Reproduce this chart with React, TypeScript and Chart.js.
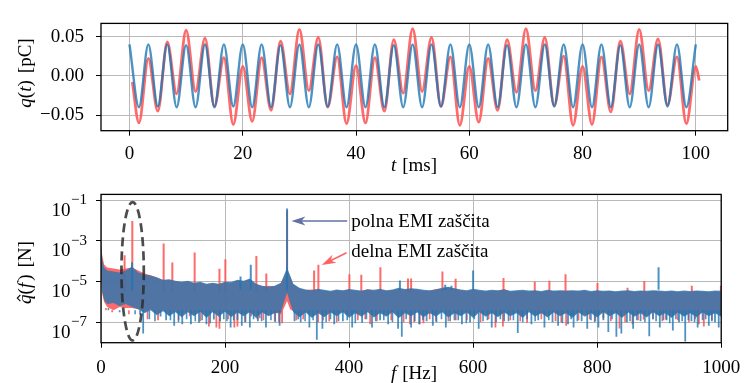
import React, { useEffect, useRef } from 'react';
import { Chart, registerables } from 'chart.js';

Chart.register(...registerables);

// ---------------- top panel: q(t) in pC, t in ms (extrema) ----------------
const BLUE_T = [0, 1.67, 3.33, 5, 6.67, 8.33, 10, 11.67, 13.33, 15, 16.67, 18.33, 20, 21.67, 23.33, 25, 26.67, 28.33, 30, 31.67, 33.33, 35, 36.67, 38.33, 40, 41.67, 43.33, 45, 46.67, 48.33, 50, 51.67, 53.33, 55, 56.67, 58.33, 60, 61.67, 63.33, 65, 66.67, 68.33, 70, 71.67, 73.33, 75, 76.67, 78.33, 80, 81.67, 83.33, 85, 86.67, 88.33, 90, 91.67, 93.33, 95, 96.67, 98.33, 100];
const BLUE_Q = [0.040, -0.040, 0.040, -0.039, 0.040, -0.040, 0.039, -0.040, 0.040, -0.040, 0.040, -0.039, 0.040, -0.040, 0.040, -0.040, 0.039, -0.040, 0.040, -0.040, 0.040, -0.039, 0.040, -0.040, 0.040, -0.040, 0.040, -0.040, 0.039, -0.040, 0.040, -0.040, 0.040, -0.039, 0.040, -0.040, 0.040, -0.040, 0.040, -0.040, 0.039, -0.040, 0.040, -0.040, 0.040, -0.039, 0.040, -0.040, 0.040, -0.040, 0.040, -0.040, 0.039, -0.040, 0.040, -0.040, 0.040, -0.039, 0.040, -0.040, 0.040];
const RED_T = [0.5, 1.67, 3.33, 5, 6.67, 8.33, 10, 11.67, 13.33, 15, 16.67, 18.33, 20, 21.67, 23.33, 25, 26.67, 28.33, 30, 31.67, 33.33, 35, 36.67, 38.33, 40, 41.67, 43.33, 45, 46.67, 48.33, 50, 51.67, 53.33, 55, 56.67, 58.33, 60, 61.67, 63.33, 65, 66.67, 68.33, 70, 71.67, 73.33, 75, 76.67, 78.33, 80, 81.67, 83.33, 85, 86.67, 88.33, 90, 91.67, 93.33, 95, 96.67, 98.33, 100, 100.6];
const RED_Q = [-0.008,
  -0.060, 0.022, -0.045, 0.043, -0.023, 0.058, -0.020, 0.048, -0.039, 0.023, -0.062, 0.012,
  -0.058, 0.023, -0.044, 0.044, -0.023, 0.059, -0.019, 0.049, -0.040, 0.024, -0.061, 0.013,
  -0.060, 0.023, -0.045, 0.046, -0.022, 0.060, -0.020, 0.049, -0.039, 0.024, -0.063, 0.012,
  -0.059, 0.022, -0.044, 0.046, -0.021, 0.060, -0.019, 0.049, -0.038, 0.025, -0.063, 0.012,
  -0.062, 0.024, -0.046, 0.044, -0.023, 0.059, -0.019, 0.047, -0.037, 0.024, -0.061, 0.012,
  -0.006];
const T_TICKS = [0, 20, 40, 60, 80, 100];
const Q_TICKS = [-0.05, 0, 0.05];

// ---------------- bottom panel: spectrum, values as log10 of amplitude ----------------
const FREQ = [0, 2, 5, 10, 20, 30, 40, 50, 60, 70,
  80, 90, 100, 110, 120, 130, 140, 150, 160, 170,
  180, 190, 200, 210, 220, 230, 240, 250, 260, 270,
  280, 290, 295, 300, 305, 310, 320, 330, 340, 350,
  360, 370, 380, 390, 400, 410, 420, 430, 440, 450,
  460, 470, 480, 490, 500, 510, 520, 530, 540, 550,
  560, 570, 580, 590, 600, 610, 620, 630, 640, 650,
  660, 670, 680, 690, 700, 710, 720, 730, 740, 750,
  760, 770, 780, 790, 800, 810, 820, 830, 840, 850,
  860, 870, 880, 890, 900, 910, 920, 930, 940, 950,
  960, 970, 980, 990, 1000];
// full EMI shielding (blue) noise band: upper / lower edge
const BLUE_UPPER = [-2.9, -3.9, -4.3, -4.45, -4.5, -4.55, -4.45, -4.25, -4.55, -4.65,
  -4.7, -4.8, -4.9, -4.88, -4.95, -5.0, -4.95, -5.05, -5.0, -5.1,
  -5.05, -5.1, -5.0, -5.02, -4.9, -4.95, -4.85, -5.1, -5.2, -5.25,
  -5.2, -5.05, -4.7, -4.3, -4.7, -5.1, -5.3, -5.38, -5.42, -5.35,
  -5.4, -5.45, -5.38, -5.42, -5.36, -5.4, -5.44, -5.38, -5.4, -5.35,
  -5.42, -5.38, -5.3, -5.36, -5.32, -5.35, -5.4, -5.42, -5.38, -5.3,
  -5.25, -5.32, -5.38, -5.42, -5.35, -5.4, -5.44, -5.4, -5.42, -5.38,
  -5.45, -5.42, -5.4, -5.44, -5.42, -5.46, -5.4, -5.44, -5.42, -5.45,
  -5.42, -5.44, -5.4, -5.46, -5.42, -5.45, -5.43, -5.47, -5.44, -5.42,
  -5.46, -5.43, -5.45, -5.42, -5.44, -5.46, -5.43, -5.47, -5.44, -5.46,
  -5.43, -5.45, -5.47, -5.44, -5.45];
const BLUE_LOWER = [-4.6, -5.5, -5.9, -6.1, -6.05, -6.2, -6.1, -6.25, -6.35, -6.55,
  -6.4, -6.65, -6.45, -6.7, -6.5, -6.75, -6.5, -6.7, -6.48, -6.78,
  -6.5, -6.72, -6.48, -6.75, -6.52, -6.7, -6.5, -6.78, -6.52, -6.7,
  -6.55, -6.5, -6.0, -5.55, -6.05, -6.5, -6.75, -6.52, -6.78, -6.55,
  -6.75, -6.52, -6.7, -6.5, -6.78, -6.55, -6.72, -6.5, -6.76, -6.55,
  -6.72, -6.5, -6.8, -6.55, -6.7, -6.52, -6.75, -6.55, -6.72, -6.5,
  -6.76, -6.55, -6.7, -6.52, -6.78, -6.5, -6.72, -6.55, -6.75, -6.52,
  -6.7, -6.55, -6.78, -6.5, -6.72, -6.55, -6.76, -6.52, -6.7, -6.55,
  -6.78, -6.52, -6.72, -6.55, -6.76, -6.5, -6.7, -6.55, -6.78, -6.52,
  -6.72, -6.55, -6.76, -6.5, -6.7, -6.55, -6.78, -6.52, -6.72, -6.55,
  -6.75, -6.52, -6.7, -6.55, -6.72];
// partial EMI shielding (red) noise band: upper / lower edge
const RED_UPPER = [-3.1, -3.7, -4.15, -4.3, -4.35, -4.4, -4.35, -4.3, -4.45, -4.6,
  -4.68, -4.78, -4.93, -4.9, -4.98, -5.03, -4.98, -5.08, -5.03, -5.13,
  -5.08, -5.13, -5.03, -5.05, -4.93, -4.98, -4.88, -5.13, -5.23, -5.2,
  -5.23, -5.08, -4.75, -4.4, -4.75, -5.13, -5.33, -5.41, -5.38, -5.38,
  -5.43, -5.48, -5.41, -5.45, -5.39, -5.43, -5.47, -5.36, -5.43, -5.38,
  -5.45, -5.41, -5.33, -5.39, -5.35, -5.38, -5.43, -5.45, -5.36, -5.33,
  -5.28, -5.35, -5.41, -5.45, -5.38, -5.43, -5.47, -5.43, -5.45, -5.36,
  -5.48, -5.45, -5.43, -5.47, -5.45, -5.49, -5.43, -5.47, -5.45, -5.43,
  -5.45, -5.47, -5.43, -5.49, -5.45, -5.48, -5.46, -5.5, -5.47, -5.45,
  -5.49, -5.46, -5.48, -5.45, -5.47, -5.49, -5.46, -5.5, -5.47, -5.49,
  -5.46, -5.48, -5.5, -5.47, -5.48];
const RED_LOWER = [-4.9, -5.6, -6.0, -6.25, -6.4, -6.25, -6.3, -6.3, -6.35, -6.5,
  -6.36, -6.6, -6.41, -6.66, -6.46, -6.71, -6.46, -6.66, -6.44, -6.74,
  -6.46, -6.68, -6.44, -6.71, -6.48, -6.66, -6.46, -6.74, -6.48, -6.66,
  -6.51, -6.6, -6.3, -5.95, -6.35, -6.46, -6.71, -6.48, -6.74, -6.51,
  -6.71, -6.48, -6.66, -6.46, -6.74, -6.51, -6.68, -6.46, -6.72, -6.51,
  -6.68, -6.46, -6.76, -6.51, -6.66, -6.48, -6.71, -6.51, -6.68, -6.46,
  -6.72, -6.51, -6.66, -6.48, -6.74, -6.46, -6.68, -6.51, -6.71, -6.48,
  -6.66, -6.51, -6.74, -6.46, -6.68, -6.51, -6.72, -6.48, -6.66, -6.51,
  -6.74, -6.48, -6.68, -6.51, -6.72, -6.46, -6.66, -6.51, -6.74, -6.48,
  -6.68, -6.51, -6.72, -6.46, -6.66, -6.51, -6.74, -6.48, -6.68, -6.51,
  -6.71, -6.48, -6.66, -6.51, -6.68];
// narrow spectral lines (upward) and noise dips (downward)
const RED_PEAK_F = [38, 50.5, 101, 115, 151, 191, 200.5, 250.5, 266.5, 300, 343.6, 350.5, 400.5, 419.7, 450.5, 495, 500, 550.5, 571.8, 649, 699.4, 723, 749, 800.5, 849, 876, 952.6, 999.5];
const RED_PEAK_L = [-3.7, -2.02, -3.12, -4.06, -3.56, -4.37, -3.9, -3.74, -4.6, -1.5, -4.45, -4.17, -4.63, -4.66, -4.29, -4.85, -4.85, -4.5, -4.86, -4.82, -5.0, -4.95, -4.63, -5.06, -5.3, -4.97, -5.2, -5.2];
const BLUE_PEAK_F = [50, 225, 241.5, 300, 482, 555, 565, 600, 899];
const BLUE_PEAK_L = [-4.05, -4.75, -4.17, -1.4, -4.94, -5.15, -5.2, -4.45, -4.29];
const RED_DIP_F = [18, 92, 110, 143, 174, 186, 191, 215, 220, 242, 252, 256, 287, 292, 315, 350, 368, 414, 434, 498, 505, 514, 520, 540, 572, 636, 648, 687, 733, 750, 797, 810, 836, 857, 875, 911, 964, 972];
const RED_DIP_L = [-6.5, -6.9, -6.65, -6.7, -7.2, -7.25, -7.32, -7.25, -7.2, -6.7, -6.85, -6.8, -7.0, -7.05, -6.9, -7.0, -6.95, -6.9, -7.09, -7.09, -7.0, -7.09, -7.05, -6.94, -6.9, -7.25, -7.2, -7.02, -6.94, -7.17, -6.94, -6.8, -7.3, -7.09, -6.86, -6.86, -7.09, -7.2];
const RED_SHALLOW_F = [8, 45, 75, 125, 160, 205, 232, 262, 280, 326, 358, 380, 426, 445, 468, 488, 530, 560, 590, 612, 625, 660, 676, 710, 742, 770, 788, 822, 845, 866, 890, 905, 930, 948, 958, 985];
const RED_SHALLOW_L = [-6.3, -6.6, -6.85, -6.9, -6.95, -6.85, -7.0, -6.9, -6.95, -6.85, -6.9, -7.0, -6.85, -6.95, -6.9, -7.0, -6.85, -6.95, -6.9, -7.0, -6.85, -6.9, -6.95, -6.85, -7.0, -6.9, -6.85, -6.95, -7.0, -6.9, -6.85, -6.95, -6.9, -7.0, -6.85, -6.9];
const BLUE_DIP_F = [20, 30, 63, 68, 96, 105, 118, 131, 145, 158, 170, 182, 192, 209, 220, 227, 240, 253, 266, 288, 312, 322, 336, 348, 357, 376, 390, 405, 421, 437, 450, 463, 479, 485, 500, 513, 525, 535, 556, 570, 582, 595, 609, 630, 650, 672, 694, 705, 715, 728, 737, 753, 762, 775, 784, 802, 810, 818, 831, 839, 848, 858, 870, 884, 901, 912, 922, 932, 942, 952, 962, 970, 980, 990, 996];
const BLUE_DIP_L = [-6.4, -6.5, -6.63, -7.55, -6.71, -6.9, -7.17, -7.09, -7.09, -7.02, -7.09, -6.86, -6.95, -7.25, -6.9, -7.17, -7.25, -6.94, -7.25, -7.17, -6.95, -7.0, -7.25, -7.86, -7.32, -7.09, -6.95, -7.25, -7.02, -7.25, -6.9, -7.09, -7.32, -7.71, -7.25, -7.09, -6.95, -7.17, -7.25, -6.9, -7.09, -7.0, -7.32, -7.25, -6.95, -7.52, -7.09, -6.9, -7.25, -7.0, -7.17, -7.09, -7.25, -6.95, -7.32, -7.25, -6.9, -7.48, -7.71, -7.55, -7.0, -7.32, -6.95, -7.68, -7.25, -6.9, -7.4, -7.0, -7.94, -6.95, -7.25, -6.9, -7.17, -7.0, -7.25];
const BLUE_SHALLOW_F = [12, 42, 55, 78, 87, 112, 125, 138, 152, 163, 176, 198, 203, 214, 233, 246, 259, 274, 281, 318, 329, 342, 363, 370, 383, 397, 410, 428, 443, 456, 470, 492, 506, 519, 541, 549, 563, 576, 589, 602, 616, 623, 637, 644, 657, 665, 680, 687, 700, 722, 744, 758, 768, 790, 796, 824, 853, 864, 877, 890, 895, 907, 917, 927, 937, 947, 957, 975, 985];
const BLUE_SHALLOW_L = [-6.3, -6.4, -6.6, -6.85, -6.95, -6.9, -7.0, -6.85, -6.95, -6.9, -7.05, -6.85, -6.95, -6.9, -7.0, -6.85, -6.95, -6.9, -7.0, -6.85, -6.95, -6.9, -7.0, -6.85, -6.95, -6.9, -7.05, -6.85, -6.95, -6.9, -7.0, -6.85, -6.95, -6.9, -7.0, -6.85, -6.95, -6.9, -7.05, -6.85, -6.95, -6.9, -7.0, -6.85, -6.95, -6.9, -7.0, -6.85, -6.95, -6.9, -7.05, -6.85, -6.95, -6.9, -7.0, -6.85, -6.95, -6.9, -7.0, -6.85, -6.95, -6.9, -7.05, -6.85, -6.95, -6.9, -7.0, -6.85, -6.95];
const F_TICKS = [0, 200, 400, 600, 800, 1000];
const LOG_TICKS = [-7, -5, -3, -1];

// annotations (data coordinates: Hz, log10 amplitude)
const LABEL_FULL = 'polna EMI zaščita';
const LABEL_PARTIAL = 'delna EMI zaščita';
const LABEL_F = 403.7;
const LABEL_FULL_L = -2.32;
const LABEL_PARTIAL_L = -3.78;
const ARROW_FULL = { fromF: 397, fromL: -2.02, toF: 307, toL: -2.02 };
const ARROW_PARTIAL = { fromF: 396, fromL: -3.58, toF: 356, toL: -4.18 };
const ELLIPSE = { f: 51, halfWidthHz: 18, topL: -1.09, bottomL: -7.89 };

// ---------------- styles ----------------
const FONT = "'Liberation Serif', 'Times New Roman', serif";
const RED_LINE = 'rgba(255,80,80,0.85)';
const BLUE_LINE = 'rgba(31,119,180,0.8)';
const BLUE_FILL = 'rgba(31,119,180,0.78)';
const GRID = '#b9b9b9';
const W = 749;
const PLOT_LEFT = 101;
const PAD_RIGHT = 21.3;

type Seg = { t?: string; it?: boolean; gap?: number; hat?: boolean };

function drawRich(ctx: CanvasRenderingContext2D, segs: Seg[], cx: number, baseY: number, size: number) {
  const widths = segs.map((s) => {
    if (s.gap) return s.gap;
    ctx.font = `${s.it ? 'italic ' : ''}${size}px ${FONT}`;
    return ctx.measureText(s.t || '').width;
  });
  const total = widths.reduce((a, b) => a + b, 0);
  let x = cx - total / 2;
  ctx.textAlign = 'left';
  ctx.textBaseline = 'alphabetic';
  ctx.fillStyle = '#000';
  segs.forEach((s, i) => {
    if (!s.gap) {
      ctx.font = `${s.it ? 'italic ' : ''}${size}px ${FONT}`;
      ctx.fillText(s.t || '', x, baseY);
      if (s.hat) {
        const hx = x + widths[i] * 0.62;
        ctx.save();
        ctx.strokeStyle = '#000';
        ctx.lineWidth = 1.1;
        ctx.beginPath();
        ctx.moveTo(hx - size * 0.17, baseY - size * 0.56);
        ctx.lineTo(hx, baseY - size * 0.72);
        ctx.lineTo(hx + size * 0.17, baseY - size * 0.56);
        ctx.stroke();
        ctx.restore();
      }
    }
    x += widths[i];
  });
}

function drawArrow(ctx: CanvasRenderingContext2D, x1: number, y1: number, x2: number, y2: number, color: string) {
  const ang = Math.atan2(y2 - y1, x2 - x1);
  const len = 14;
  const hw = 4.5;
  const bx = x2 - Math.cos(ang) * len;
  const by = y2 - Math.sin(ang) * len;
  const nx = -Math.sin(ang);
  const ny = Math.cos(ang);
  ctx.save();
  ctx.strokeStyle = color;
  ctx.fillStyle = color;
  ctx.lineWidth = 1.6;
  ctx.beginPath();
  ctx.moveTo(x1, y1);
  ctx.lineTo(x2 - Math.cos(ang) * 4, y2 - Math.sin(ang) * 4);
  ctx.stroke();
  ctx.beginPath();
  ctx.moveTo(x2, y2);
  ctx.lineTo(bx + nx * hw, by + ny * hw);
  ctx.lineTo(x2 - Math.cos(ang) * (len - 4), y2 - Math.sin(ang) * (len - 4));
  ctx.lineTo(bx - nx * hw, by - ny * hw);
  ctx.closePath();
  ctx.fill();
  ctx.restore();
}

const framePlugin = {
  id: 'frame',
  afterDraw(chart: any) {
    const { ctx, chartArea: a } = chart;
    ctx.save();
    ctx.strokeStyle = '#000';
    ctx.lineWidth = 1.3;
    ctx.strokeRect(a.left, a.top, a.right - a.left, a.bottom - a.top);
    ctx.restore();
  },
};

const topTitles = {
  id: 'topTitles',
  afterDraw(chart: any) {
    const { ctx } = chart;
    ctx.save();
    drawRich(ctx, [{ t: 't', it: true }, { gap: 6 }, { t: '[ms]' }], 414, 171, 19);
    ctx.translate(31, 73);
    ctx.rotate(-Math.PI / 2);
    drawRich(ctx, [{ t: 'q', it: true }, { t: '(' }, { t: 't', it: true }, { t: ')' }, { gap: 7 }, { t: '[pC]' }], 0, 0, 19);
    ctx.restore();
  },
};

const bottomDecor = {
  id: 'bottomDecor',
  afterDatasetsDraw(chart: any) {
    const { ctx, scales } = chart;
    const xs = scales.x;
    const ys = scales.y;
    const px = (f: number) => xs.getPixelForValue(f);
    const py = (l: number) => ys.getPixelForValue(Math.pow(10, l));
    ctx.save();
    const cx = px(ELLIPSE.f);
    const rx = px(ELLIPSE.f + ELLIPSE.halfWidthHz) - cx;
    const yt = py(ELLIPSE.topL);
    const yb = py(ELLIPSE.bottomL);
    ctx.strokeStyle = 'rgba(45,45,45,0.85)';
    ctx.lineWidth = 2.7;
    ctx.setLineDash([9, 5]);
    ctx.beginPath();
    ctx.ellipse(cx, (yt + yb) / 2, rx, (yb - yt) / 2, 0, 0, Math.PI * 2);
    ctx.stroke();
    ctx.setLineDash([]);
    drawArrow(ctx, px(ARROW_FULL.fromF), py(ARROW_FULL.fromL), px(ARROW_FULL.toF), py(ARROW_FULL.toL), 'rgb(98,112,166)');
    drawArrow(ctx, px(ARROW_PARTIAL.fromF), py(ARROW_PARTIAL.fromL), px(ARROW_PARTIAL.toF), py(ARROW_PARTIAL.toL), 'rgb(255,98,98)');
    ctx.fillStyle = '#000';
    ctx.font = `19px ${FONT}`;
    ctx.textAlign = 'left';
    ctx.textBaseline = 'alphabetic';
    ctx.fillText(LABEL_FULL, px(LABEL_F), py(LABEL_FULL_L));
    ctx.fillText(LABEL_PARTIAL, px(LABEL_F), py(LABEL_PARTIAL_L));
    ctx.restore();
  },
  afterDraw(chart: any) {
    const { ctx, scales } = chart;
    const ys = scales.y;
    ctx.save();
    ctx.fillStyle = '#000';
    ctx.textAlign = 'right';
    ctx.textBaseline = 'alphabetic';
    LOG_TICKS.forEach((e) => {
      const y = ys.getPixelForValue(Math.pow(10, e));
      ctx.font = `15px ${FONT}`;
      const sup = `−${Math.abs(e)}`;
      ctx.fillText(sup, 87, y + 3.7);
      const sw = ctx.measureText(sup).width;
      ctx.font = `19px ${FONT}`;
      ctx.fillText('10', 87 - sw - 0.5, y + 15.2);
    });
    drawRich(ctx, [{ t: 'f', it: true }, { gap: 6 }, { t: '[Hz]' }], 414, 199, 19);
    ctx.translate(31, 92.5);
    ctx.rotate(-Math.PI / 2);
    drawRich(ctx, [{ t: 'q', it: true, hat: true }, { t: '(' }, { t: 'f', it: true }, { gap: 2 }, { t: ')' }, { gap: 7 }, { t: '[N]' }], 0, 0, 19);
    ctx.restore();
  },
};

const pts = (xs: number[], ls: number[]) => xs.map((x, i) => ({ x, y: Math.pow(10, ls[i]) }));
const spikes = (fs: number[], ls: number[], base: number) =>
  fs.flatMap((f, i) => [
    { x: f, y: Math.pow(10, base) },
    { x: f, y: Math.pow(10, ls[i]) },
    { x: f, y: null as any },
  ]);

export default function App() {
  const topRef = useRef<HTMLCanvasElement>(null);
  const botRef = useRef<HTMLCanvasElement>(null);

  useEffect(() => {
    const tickFont = { family: FONT, size: 19 };
    const top = new Chart(topRef.current as HTMLCanvasElement, {
      type: 'line',
      data: {
        datasets: [
          {
            data: BLUE_T.map((t, i) => ({ x: t, y: BLUE_Q[i] })),
            borderColor: BLUE_LINE,
            borderWidth: 2.4,
            pointRadius: 0,
            cubicInterpolationMode: 'monotone',
            order: 1,
          },
          {
            data: RED_T.map((t, i) => ({ x: t, y: RED_Q[i] })),
            borderColor: RED_LINE,
            borderWidth: 2.8,
            pointRadius: 0,
            cubicInterpolationMode: 'monotone',
            order: 2,
          },
        ],
      },
      options: {
        animation: false,
        responsive: false,
        devicePixelRatio: 1,
        layout: { padding: { left: 0, right: PAD_RIGHT, top: 12.7, bottom: 0 } },
        plugins: { legend: { display: false }, tooltip: { enabled: false } },
        scales: {
          x: {
            type: 'linear',
            min: -5.03,
            max: 105.63,
            afterBuildTicks: (s: any) => { s.ticks = T_TICKS.map((v) => ({ value: v })); },
            afterFit: (s: any) => { s.height = 49.3; },
            grid: { color: GRID, lineWidth: 1, tickColor: '#000', tickLength: 5, tickWidth: 1 },
            border: { display: false },
            ticks: { font: tickFont, color: '#000', padding: 7, maxRotation: 0, autoSkip: false, callback: (v: any) => String(v) },
          },
          y: {
            type: 'linear',
            min: -0.0699,
            max: 0.0667,
            afterBuildTicks: (s: any) => { s.ticks = Q_TICKS.map((v) => ({ value: v })); },
            afterFit: (s: any) => { s.width = PLOT_LEFT; },
            grid: { color: GRID, lineWidth: 1, tickColor: '#000', tickLength: 5, tickWidth: 1 },
            border: { display: false },
            ticks: {
              font: tickFont,
              color: '#000',
              padding: 12,
              autoSkip: false,
              callback: (v: any) => (v < 0 ? '−' : '') + Math.abs(v).toFixed(2),
            },
          },
        },
      } as any,
      plugins: [framePlugin, topTitles],
    });

    const line = (data: any[], color: string, width: number, order: number, extra: any = {}) => ({
      data,
      borderColor: color,
      borderWidth: width,
      pointRadius: 0,
      tension: 0,
      spanGaps: false,
      order,
      ...extra,
    });

    const bot = new Chart(botRef.current as HTMLCanvasElement, {
      type: 'line',
      data: {
        datasets: [
          line(pts(FREQ, BLUE_UPPER), 'rgba(0,0,0,0)', 1, 3, { fill: '+1', backgroundColor: BLUE_FILL }),
          line(pts(FREQ, BLUE_LOWER), 'rgba(0,0,0,0)', 1, 3, { fill: false }),
          line(pts(FREQ, RED_UPPER), 'rgba(0,0,0,0)', 1, 6, { fill: '+1', backgroundColor: RED_LINE }),
          line(pts(FREQ, RED_LOWER), 'rgba(0,0,0,0)', 1, 6, { fill: false }),
          line(spikes(RED_PEAK_F, RED_PEAK_L, -5.5), RED_LINE, 2, 5, { fill: false }),
          line(spikes(RED_DIP_F, RED_DIP_L, -6.4), RED_LINE, 1.8, 5, { fill: false }),
          line(spikes(RED_SHALLOW_F, RED_SHALLOW_L, -6.4), RED_LINE, 1.6, 5, { fill: false }),
          line(spikes(BLUE_PEAK_F, BLUE_PEAK_L, -5.4), BLUE_LINE, 2, 2, { fill: false }),
          line(spikes(BLUE_DIP_F, BLUE_DIP_L, -6.4), BLUE_LINE, 1.8, 2, { fill: false }),
          line(spikes(BLUE_SHALLOW_F, BLUE_SHALLOW_L, -6.4), BLUE_LINE, 1.6, 2, { fill: false }),
        ],
      },
      options: {
        animation: false,
        responsive: false,
        devicePixelRatio: 1,
        layout: { padding: { left: 0, right: PAD_RIGHT, top: 5, bottom: 0 } },
        plugins: { legend: { display: false }, tooltip: { enabled: false } },
        scales: {
          x: {
            type: 'linear',
            min: 0,
            max: 1000,
            afterBuildTicks: (s: any) => { s.ticks = F_TICKS.map((v) => ({ value: v })); },
            afterFit: (s: any) => { s.height = 40.3; },
            grid: { color: GRID, lineWidth: 1, tickColor: '#000', tickLength: 5, tickWidth: 1 },
            border: { display: false },
            ticks: { font: tickFont, color: '#000', padding: 8.8, maxRotation: 0, autoSkip: false, callback: (v: any) => String(v) },
          },
          y: {
            type: 'logarithmic',
            min: 1e-8,
            max: 0.195,
            afterBuildTicks: (s: any) => { s.ticks = LOG_TICKS.map((e) => ({ value: Math.pow(10, e) })); },
            afterFit: (s: any) => { s.width = PLOT_LEFT; },
            grid: { color: GRID, lineWidth: 1, tickColor: '#000', tickLength: 5, tickWidth: 1 },
            border: { display: false },
            ticks: { font: tickFont, color: '#000', autoSkip: false, callback: () => '' },
          },
        },
      } as any,
      plugins: [framePlugin, bottomDecor],
    });

    return () => {
      top.destroy();
      bot.destroy();
    };
  }, []);

  return (
    <div style={{ position: 'fixed', left: 0, top: 0, width: W, height: 383, background: '#fff' }}>
      <canvas ref={topRef} width={W} height={180} style={{ position: 'absolute', left: 0, top: 0, width: W, height: 180 }} />
      <canvas ref={botRef} width={W} height={203} style={{ position: 'absolute', left: 0, top: 180, width: W, height: 203 }} />
    </div>
  );
}
